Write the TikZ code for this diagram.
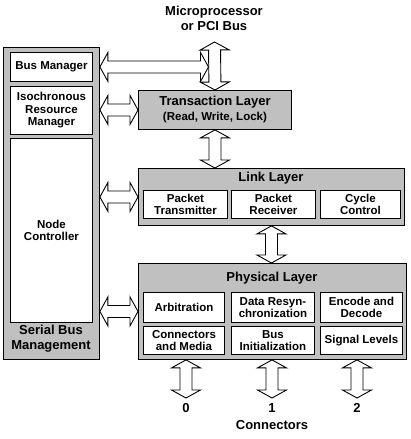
\documentclass[tikz,border=0pt]{standalone}
\usepackage{fontspec}
\setmainfont{Liberation Sans}
\usepackage{tikz}
\usetikzlibrary{calc}

\definecolor{silver}{RGB}{192,192,192}
\newcommand{\unitfont}{\fontsize{11.5}{12.5}\selectfont\bfseries}
\newcommand{\layerfont}{\fontsize{13}{15}\selectfont\bfseries}

\newcommand{\fatarrow}[2]{%
	\draw[fill=white,line join=miter] (#1)
		-- ($(#1)!8pt!(#2)!14.5pt!90:(#2)$)
		-- ($(#1)!8pt!(#2)!6pt!90:(#2)$)
		-- ($(#2)!8pt!(#1)!6pt!-90:(#1)$)
		-- ($(#2)!8pt!(#1)!14.5pt!-90:(#1)$)
		-- (#2)
		-- ($(#2)!8pt!(#1)!14.5pt!90:(#1)$)
		-- ($(#2)!8pt!(#1)!6pt!90:(#1)$)
		-- ($(#1)!8pt!(#2)!6pt!-90:(#2)$)
		-- ($(#1)!8pt!(#2)!14.5pt!-90:(#2)$)
		-- cycle;}

\begin{document}
\begin{tikzpicture}[x=1pt,y=-1pt,line width=0.9pt,
	panel/.style={draw,fill=silver,anchor=north west,inner sep=0pt,align=center},
	unit/.style={draw,fill=white,anchor=north west,inner sep=0pt,align=center,font=\unitfont},
	title/.style={inner sep=0pt,align=center,font=\layerfont}]
	
	\useasboundingbox (0,0) rectangle (410,439);
	
	\node[panel,minimum width=96pt,minimum height=312pt] (sbm) at (3,47) {};
	\node[unit,minimum width=82pt,minimum height=29pt] (busman) at (10,52) {Bus Manager};
	\node[unit,minimum width=82pt,minimum height=48pt] (isores) at (10,86) {Isochronous\\Resource\\Manager};
	\node[unit,minimum width=82pt,minimum height=184pt] (nodectl) at (10,138) {Node\\Controller};
	\node[title] (sbmtxt) at (51,339) {Serial Bus\\Management};
	
	\node[panel,minimum width=153pt,minimum height=39pt,font=\layerfont] (trans) at (138,90) {Transaction Layer\\{\unitfont (Read, Write, Lock)}};
	
	\node[panel,minimum width=266pt,minimum height=57pt] (link) at (138,168) {};
	\node[title] (linktxt) at (271,178) {Link Layer};
	\node[unit,minimum width=84pt,minimum height=28pt] (ptx) at (143,190) {Packet\\Transmitter};
	\node[unit,minimum width=84pt,minimum height=28pt] (prx) at (231,190) {Packet\\Receiver};
	\node[unit,minimum width=80pt,minimum height=28pt] (cycle) at (320,190) {Cycle\\Control};
	
	\node[panel,minimum width=268pt,minimum height=96pt] (phys) at (138,263) {};
	\node[title] (phystxt) at (272,278) {Physical Layer};
	\node[unit,minimum width=81pt,minimum height=30pt] (arb) at (143,292) {Arbitration};
	\node[unit,minimum width=83pt,minimum height=30pt] (resync) at (231,292) {Data Resyn-\\chronization};
	\node[unit,minimum width=82pt,minimum height=30pt] (encdec) at (320,292) {Encode and\\Decode};
	\node[unit,minimum width=81pt,minimum height=28pt] (media) at (143,326) {Connectors\\and Media};
	\node[unit,minimum width=83pt,minimum height=28pt] (businit) at (231,326) {Bus\\Initialization};
	\node[unit,minimum width=82pt,minimum height=28pt] (siglev) at (320,326) {Signal Levels};
	
	\node[title] (cpu) at (214,18) {Microprocessor\\or PCI Bus};
	\node[title,anchor=north] (con0) at (186,403) {0};
	\node[title,anchor=north] (con1) at (272,403) {1};
	\node[title,anchor=north] (con2) at (357,403) {2};
	\node[title] (contxt) at (272,425) {Connectors};
	
	\coordinate (bustop) at (214.5,42);
	\coordinate (bmstart) at (sbm.east |- busman.east);
	\coordinate (bmtip) at ($(bustop |- busman.east)+(-6,0)$);
	\coordinate (isostart) at (sbm.east |- trans.west);
	\coordinate (linkstart) at (sbm.east |- link.west);
	\coordinate (physstart) at (sbm.east |- phys.west);
	\coordinate (linktop) at (trans.south |- link.north);
	\coordinate (physend) at (link.south |- phys.north);
	\coordinate (p0) at (phys.south -| con0);
	\coordinate (p1) at (phys.south -| con1);
	\coordinate (p2) at (phys.south -| con2);
	\coordinate (e0) at ($(con0.north)+(0,-5)$);
	\coordinate (e1) at ($(con1.north)+(0,-5)$);
	\coordinate (e2) at ($(con2.north)+(0,-5)$);
	
	\fatarrow{bustop}{trans.north}
	\fatarrow{bmstart}{bmtip}
	\fatarrow{isostart}{trans.west}
	\fatarrow{linkstart}{link.west}
	\fatarrow{physstart}{phys.west}
	\fatarrow{trans.south}{linktop}
	\fatarrow{link.south}{physend}
	\fatarrow{p0}{e0}
	\fatarrow{p1}{e1}
	\fatarrow{p2}{e2}
	
\end{tikzpicture}
\end{document}
